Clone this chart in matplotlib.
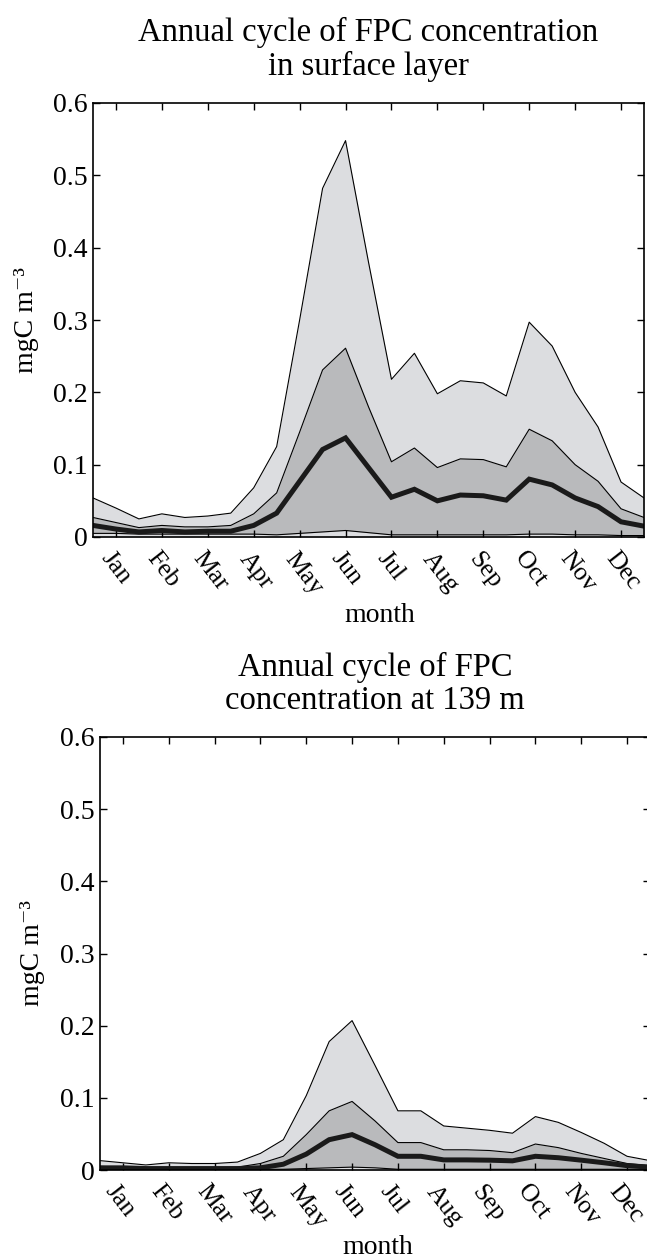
import numpy as np
import matplotlib
matplotlib.use('Agg')
import matplotlib.pyplot as plt
import matplotlib.transforms as mtransforms

plt.rcParams['font.family'] = ['Liberation Serif', 'DejaVu Serif']

months = ['Jan', 'Feb', 'Mar', 'Apr', 'May', 'Jun',
          'Jul', 'Aug', 'Sep', 'Oct', 'Nov', 'Dec']
# half-month time steps (in months)
t = np.arange(0, 12.5, 0.5)

# surface layer
surf_max = [0.054, 0.040, 0.025, 0.032, 0.027, 0.029, 0.033, 0.068, 0.125,
            0.300, 0.482, 0.548, 0.380, 0.218, 0.254, 0.198, 0.216, 0.213,
            0.195, 0.297, 0.264, 0.200, 0.152, 0.076, 0.054]
surf_p75 = [0.027, 0.020, 0.013, 0.016, 0.014, 0.014, 0.016, 0.032, 0.061,
            0.145, 0.231, 0.261, 0.180, 0.104, 0.123, 0.096, 0.108, 0.107,
            0.097, 0.149, 0.133, 0.100, 0.077, 0.039, 0.027]
surf_med = [0.016, 0.011, 0.007, 0.009, 0.007, 0.008, 0.008, 0.016, 0.033,
            0.077, 0.121, 0.137, 0.096, 0.055, 0.066, 0.050, 0.058, 0.057,
            0.051, 0.080, 0.072, 0.054, 0.042, 0.021, 0.015]
surf_low = [0.005, 0.005, 0.004, 0.004, 0.004, 0.004, 0.004, 0.004, 0.003,
            0.005, 0.007, 0.009, 0.006, 0.003, 0.003, 0.003, 0.003, 0.003,
            0.003, 0.004, 0.004, 0.003, 0.003, 0.002, 0.002]

# 139 m
deep_max = [0.013, 0.010, 0.007, 0.010, 0.009, 0.009, 0.011, 0.023, 0.042,
            0.103, 0.178, 0.207, 0.145, 0.082, 0.082, 0.061, 0.058, 0.055,
            0.051, 0.074, 0.066, 0.052, 0.037, 0.019, 0.013]
deep_p75 = [0.005, 0.004, 0.003, 0.003, 0.003, 0.003, 0.004, 0.009, 0.019,
            0.049, 0.082, 0.095, 0.068, 0.038, 0.038, 0.028, 0.028, 0.027,
            0.024, 0.036, 0.031, 0.023, 0.016, 0.009, 0.006]
deep_med = [0.003, 0.003, 0.002, 0.002, 0.002, 0.002, 0.002, 0.003, 0.008,
            0.022, 0.042, 0.049, 0.035, 0.019, 0.019, 0.014, 0.014, 0.0136,
            0.0127, 0.019, 0.017, 0.0136, 0.010, 0.006, 0.004]
deep_low = [0.001, 0.001, 0.001, 0.001, 0.001, 0.001, 0.001, 0.001, 0.001,
            0.002, 0.003, 0.004, 0.003, 0.001, 0.001, 0.001, 0.001, 0.001,
            0.001, 0.001, 0.001, 0.001, 0.001, 0.001, 0.001]

light = '#dcdde0'
dark = '#b9babc'


def panel(ax, mx, p75, med, low, ylab_x, xlab_x, title, shift):
    ax.fill_between(t, 0, mx, color=light, lw=0)
    ax.fill_between(t, low, p75, color=dark, lw=0)
    ax.plot(t, mx, color='k', lw=0.8)
    ax.plot(t, p75, color='k', lw=0.8)
    ax.plot(t, low, color='k', lw=0.8)
    ax.plot(t, med, color='#1a1a1a', lw=3.6, solid_joinstyle='miter')
    ax.set_xlim(0, 12)
    ax.set_ylim(0, 0.6)
    ax.set_yticks([0, 0.1, 0.2, 0.3, 0.4, 0.5, 0.6])
    ax.set_yticklabels(['0', '0.1', '0.2', '0.3', '0.4', '0.5', '0.6'])
    ticks = np.arange(12) + 0.5
    ax.set_xticks(ticks)
    ax.set_xticklabels([])
    # month labels, rotated, nudged left so Dec stays inside the figure
    off = mtransforms.ScaledTranslation(shift / 100, -11 / 100,
                                        fig.dpi_scale_trans)
    tr = ax.get_xaxis_transform() + off
    for x, m in zip(ticks, months):
        ax.text(x, 0, m, transform=tr, rotation=-52, ha='left', va='top',
                rotation_mode='anchor', fontsize=18.5, clip_on=False)
    ax.tick_params(direction='in', length=5, width=1, top=True, right=True,
                   pad=4)
    ax.tick_params(axis='y', labelsize=20)
    for s in ax.spines.values():
        s.set_linewidth(1.2)
    ax.set_ylabel('mgC m\u207b\u00b3', fontsize=20, va='center')
    ax.yaxis.set_label_coords(ylab_x, 0.5)
    ax.set_xlabel('month', fontsize=20, va='center')
    ax.xaxis.set_label_coords(xlab_x, -0.18)
    ax.set_title(title, fontsize=23.5, linespacing=1.12, pad=20)


fig = plt.figure(figsize=(6.47, 12.6), dpi=100)
ax1 = fig.add_axes([93 / 647, 1 - 537 / 1260, 551 / 647, 434 / 1260])
ax2 = fig.add_axes([100 / 647, 1 - 1170 / 1260, 550 / 647, 433 / 1260])

panel(ax1, surf_max, surf_p75, surf_med, surf_low, -0.12, 0.52,
      'Annual cycle of FPC concentration\nin surface layer', -2)
panel(ax2, deep_max, deep_p75, deep_med, deep_low, -0.122, 0.505,
      'Annual cycle of FPC\nconcentration at 139 m', -5)

fig.savefig('out.png', dpi=100)
